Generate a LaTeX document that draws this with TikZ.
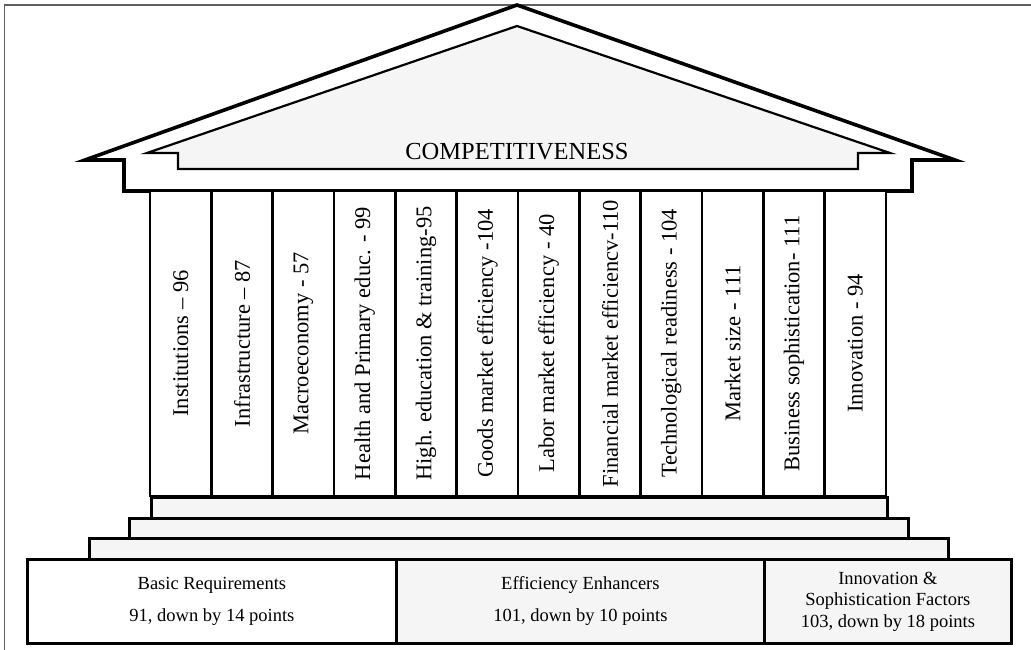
\documentclass[tikz,border=0pt]{standalone}
\usepackage{fontspec}
\setmainfont{Liberation Serif}
\definecolor{lightfill}{HTML}{F5F5F5}
\definecolor{framegray}{HTML}{606060}
\begin{document}
\begin{tikzpicture}[x=1pt,y=-1pt,
  roofouter/.style={line width=3.6pt,line join=miter},
  roofinner/.style={line width=2.2pt,fill=lightfill,line join=miter},
  pillar/.style={draw,line width=2.6pt,fill=white,rotate=90,minimum width=305pt,minimum height=61.33pt,inner sep=0pt,font=\fontsize{22.5}{24}\selectfont},
  stepbox/.style={draw,line width=2.6pt,fill=lightfill,anchor=north west,inner sep=0pt},
  basebox/.style={draw,line width=2.8pt,anchor=north west,inner sep=0pt,minimum height=84pt,align=center,font=\fontsize{18.5}{21.5}\selectfont}]
\useasboundingbox (0,0) rectangle (1031,650);
\fill[white] (0,0) rectangle (1031,650);
% outer frame
\draw[framegray,line width=1.2pt] (4.5,700) -- (4.5,5) -- (1100,5);
% roof
\draw[roofouter] (85,160) -- (517,5) -- (955,160) -- (912,160) -- (912,191) -- (124,191) -- (124,160) -- cycle;
\draw[roofinner] (147,153) -- (517,26) -- (890,153) -- (858,153) -- (858,169) -- (178,169) -- (178,153) -- cycle;
\node[font=\fontsize{24.5}{26}\selectfont] (title) at (517,152) {COMPETITIVENESS};
% steps
\node[stepbox,minimum width=859pt,minimum height=21pt] (s3) at (88,537) {};
\node[stepbox,minimum width=779pt,minimum height=20pt] (s2) at (128,517) {};
\node[stepbox,minimum width=736pt,minimum height=21pt] (s1) at (150,496) {};
% pillars
\foreach \i/\t in {1/{Institutions – 96},2/{Infrastructure – 87},3/{Macroeconomy - 57},4/{Health and Primary educ. - 99},5/{High. education \& training-95},6/{Goods market efficiency -104},7/{Labor market efficiency - 40},8/{Financial market efficiencv-110},9/{Technological readiness - 104},10/{Market size - 111},11/{Business sophistication- 111},12/{Innovation - 94}}{
  \node[pillar] (p\i) at ({150+61.33*(\i-0.5)},343.5) {\t};
}
% base
\node[basebox,fill=white,minimum width=369pt] (b1) at (26,558) {Basic Requirements\\[10.5pt]91, down by 14 points};
\node[basebox,fill=lightfill,minimum width=368pt] (b2) at (395,558) {Efficiency Enhancers\\[10.5pt]101, down by 10 points};
\node[basebox,fill=lightfill,minimum width=247pt] (b3) at (763,558) {Innovation \&\\Sophistication Factors\\103, down by 18 points};
\end{tikzpicture}
\end{document}
